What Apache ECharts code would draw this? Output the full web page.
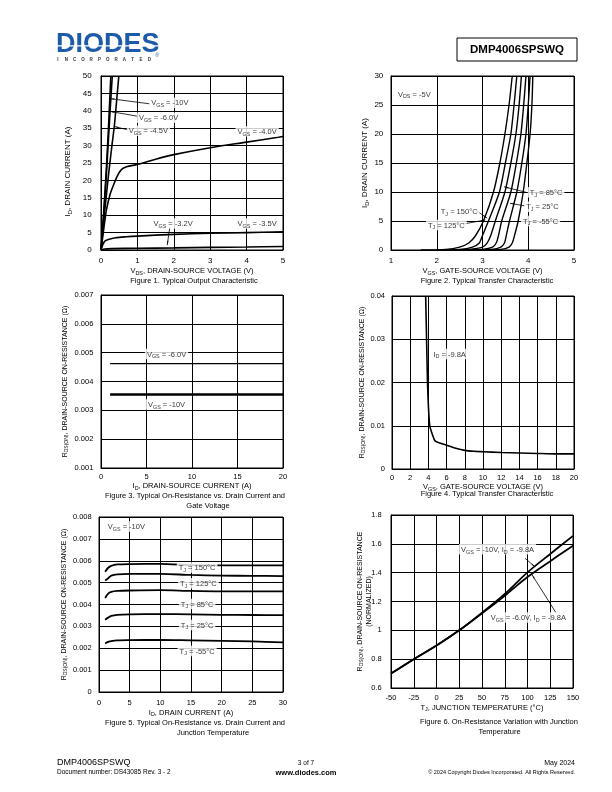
<!DOCTYPE html>
<html><head><meta charset="utf-8">
<script src="https://cdn.jsdelivr.net/npm/echarts@6/dist/echarts.min.js"></script>
<style>html,body{margin:0;padding:0;background:#fff}#c{width:612px;height:792px}</style>
</head><body><div id="c"></div>
<script>
// ---------------- DATA ----------------
// Figure 1: Typical Output Characteristic  [VDS (V), ID (A)]
const fig1Vgs10 = [[0,0],[0.05,7],[0.1,15],[0.15,24],[0.2,34],[0.27,50]];
const fig1Vgs6  = [[0,0],[0.05,6.5],[0.1,14],[0.15,22],[0.2,31],[0.25,40],[0.31,50]];
const fig1Vgs45 = [[0,0],[0.05,5.5],[0.1,11],[0.2,21],[0.3,30],[0.37,36],[0.43,43],[0.49,50]];
const fig1Vgs40 = [[0,0],[0.05,4],[0.1,8],[0.15,11.6],[0.25,16],[0.33,18.3],[0.45,21.3],[0.56,23.1],[0.7,23.9],[1,24.6],[1.5,26.1],[2,27.4],[3,29.4],[4,31.0],[5,32.6]];
const fig1Vgs35 = [[0,0],[0.05,1.5],[0.1,2.5],[0.2,3.0],[0.4,3.5],[0.7,3.8],[1,4.0],[2,4.5],[3,4.8],[4,5.0],[5,5.2]];
const fig1Vgs32 = [[0,0],[0.1,0.3],[0.3,0.4],[1,0.5],[2,0.6],[3,0.75],[4,0.85],[5,1.0]];
const fig1Labels = [['V_{GS} = -10V',1.89,42.3],['V_{GS} = -6.0V',1.58,38.0],['V_{GS} = -4.5V',1.30,34.3],['V_{GS} = -4.0V',4.29,34.1],['V_{GS} = -3.2V',1.98,7.6],['V_{GS} = -3.5V',4.29,7.6]];
const fig1Arrows = [[1.34,42.0,0.245,43.5],[1.03,38.4,0.255,39.8],[0.74,34.5,0.365,35.5],[1.89,6.5,1.82,1.4]];

// Figure 2: Typical Transfer Characteristic  [VGS (V), ID (A)]
const fig2Tj150 = [[1.65,0],[2.2,0.1],[2.5,0.5],[2.7,1.2],[2.85,2.5],[3.02,5],[3.24,10],[3.38,15],[3.49,20],[3.58,25],[3.65,30]];
const fig2Tj125 = [[2.0,0],[2.5,0.1],[2.78,0.5],[2.93,1.2],[3.0,2.5],[3.13,5],[3.37,10],[3.5,15],[3.62,20],[3.69,25],[3.75,30]];
const fig2Tj85  = [[2.3,0],[2.7,0.1],[3.0,0.5],[3.1,1.2],[3.18,2.5],[3.28,5],[3.49,10],[3.62,15],[3.73,20],[3.8,25],[3.85,30]];
const fig2Tj25  = [[2.6,0],[3.0,0.1],[3.22,0.5],[3.3,1.2],[3.35,2.5],[3.42,5],[3.62,10],[3.74,15],[3.84,20],[3.9,25],[3.95,30]];
const fig2TjA   = [[2.8,0],[3.2,0.1],[3.4,0.5],[3.48,1.2],[3.52,2.5],[3.59,5],[3.75,10],[3.86,15],[3.95,20],[4.0,25],[4.04,30]];
const fig2Tjm55 = [[3.0,0],[3.4,0.1],[3.58,0.5],[3.65,1.2],[3.7,2.5],[3.78,5],[3.89,10],[3.97,15],[4.04,20],[4.08,25],[4.10,30]];
const fig2Labels = [['V_{DS} = -5V',1.51,26.9],['T_{J} = 85°C',4.39,9.95],['T_{J} = 25°C',4.31,7.47],['T_{J} = -55°C',4.27,5.0],['T_{J} = 150°C',2.49,6.6],['T_{J} = 125°C',2.21,4.31]];
const fig2Arrows = [[3.95,9.95,3.47,10.9],[3.93,7.6,3.60,8.05],[2.88,6.7,3.10,5.5],[2.58,4.48,3.06,5.17]];

// Figure 3: On-Resistance vs Drain Current and Gate Voltage [ID (A), RDS(ON) (Ohm)]
const fig3Vgs6  = [[1,0.00462],[20,0.00462]];
const fig3Vgs10 = [[1,0.00355],[20,0.00355]];
const fig3Labels = [['V_{GS} = -6.0V',7.2,0.00495],['V_{GS} = -10V',7.2,0.0032]];

// Figure 4: RDS(ON) vs VGS [VGS (V), RDS(ON) (Ohm)]
const fig4Id98 = [[3.7,0.04],[3.8,0.03],[3.9,0.02],[4.0,0.0145],[4.15,0.01],[4.4,0.0082],[4.7,0.0066],[5,0.0062],[6,0.0055],[7,0.0048],[8,0.0043],[9,0.0041],[10,0.004],[12,0.0038],[14,0.0037],[16,0.0036],[18,0.0035],[20,0.0035]];
const fig4Labels = [['I_{D} = -9.8A',6.33,0.0266]];

// Figure 5: RDS(ON) vs ID and TJ [ID (A), RDS(ON) (Ohm)]
const fig5Current = [1,1.5,2,3,5,10,15,20,25,30];
const fig5Tj150 = [0.0055,0.00568,0.00577,0.00583,0.00585,0.00586,0.0058,0.00579,0.00579,0.00579];
const fig5Tj125 = [0.0051,0.0052,0.00532,0.00538,0.0054,0.0054,0.00535,0.00532,0.00531,0.0053];
const fig5Tj85  = [0.0043,0.0045,0.00458,0.00462,0.00464,0.00466,0.00462,0.0046,0.0046,0.0046];
const fig5Tj25  = [0.0033,0.0034,0.00348,0.00353,0.00355,0.00356,0.00355,0.00353,0.00352,0.00351];
const fig5Tjm55 = [0.00222,0.00229,0.00233,0.00236,0.00237,0.00238,0.00236,0.00234,0.00231,0.00227];
const fig5Labels = [['V_{GS} = -10V',4.46,0.00757],['T_{J} = 150°C',16,0.00569],['T_{J} = 125°C',16.2,0.00497],['T_{J} = 85°C',16,0.00402],['T_{J} = 25°C',16,0.00306],['T_{J} = -55°C',16,0.00187]];

// Figure 6: normalized RDS(ON) vs TJ [TJ (°C), normalized]
const fig6Temp = [-50,-25,0,25,50,75,100,125,150];
const fig6Vgs10 = [0.70,0.80,0.895,1.0,1.122,1.252,1.402,1.53,1.655];
const fig6Vgs6  = [0.70,0.80,0.895,1.0,1.118,1.24,1.37,1.48,1.587];
const fig6Labels = [['V_{GS} = -10V, I_{D} = -9.8A',67.1,1.562],['V_{GS} = -6.0V, I_{D} = -9.8A',101.0,1.089]];
const fig6Arrows = [[97.4,1.499,108.4,1.44],[131.5,1.12,105,1.385]];

// ---------------- HELPERS ----------------
const FONT = "'Liberation Sans', Arial, sans-serif";
function rich(str){
  let out='', re=/_\{([^}]*)\}/g, last=0, m;
  while((m=re.exec(str))){ if(m.index>last) out+='{n|'+str.slice(last,m.index)+'}'; out+='{s|'+m[1]+'}'; last=re.lastIndex; }
  if(last<str.length) out+='{n|'+str.slice(last)+'}';
  return out;
}
function rs(fs, lh){
  return {n:{fontSize:fs,fontFamily:FONT,color:'#000',lineHeight:lh||fs+2},
          s:{fontSize:Math.round(fs*0.72*10)/10,fontFamily:FONT,color:'#000',verticalAlign:'bottom'}};
}
function pair(xs, ys){ return xs.map((x,i)=>[x, ys[i]]); }

const grids = [
  {left:101, top:76, width:182, height:174},
  {left:391, top:76, width:183, height:174},
  {left:101, top:295, width:182, height:173},
  {left:392, top:296, width:182, height:173},
  {left:99, top:517, width:184, height:175},
  {left:391, top:515, width:182, height:173}
].map(g=>Object.assign({show:true, borderColor:'#000', borderWidth:1, containLabel:false, outerBoundsMode:'none'}, g));

function baseAxis(i, min, max, interval, name, gap, margin, fs, nfs, fmt, extraName, extra){
  return Object.assign({
    type:'value', gridIndex:i, min, max, interval,
    name: rich(name), nameLocation:'middle', nameGap:gap,
    nameTextStyle:Object.assign({rich:rs(nfs)}, extraName||{}),
    axisLine:{show:true, onZero:false, lineStyle:{color:'#000', width:1}},
    axisTick:{show:false},
    splitLine:{show:true, lineStyle:{color:'#000', width:1}},
    axisLabel:{color:'#000', fontSize:fs, fontFamily:FONT, margin, showMinLabel:true, showMaxLabel:true, hideOverlap:false, formatter: fmt}
  }, extra||{});
}
const fmtInt = v => String(Math.round(v));
const fmt3 = v => Math.abs(v)<1e-9 ? '0' : v.toFixed(3);
const fmt2 = v => Math.abs(v)<1e-9 ? '0' : v.toFixed(2);
const fmt1 = v => String(+v.toFixed(1));

const xAxes = [
  baseAxis(0, 0, 5, 1, 'V_{DS}, DRAIN-SOURCE VOLTAGE (V)', 16.5, 7, 8, 7.5, fmtInt),
  baseAxis(1, 1, 5, 1, 'V_{GS}, GATE-SOURCE VOLTAGE (V)', 16.5, 7, 8, 7.5, fmtInt),
  baseAxis(2, 0, 20, 5, 'I_{D}, DRAIN-SOURCE CURRENT (A)', 13.5, 5, 7.5, 7.5, fmtInt),
  baseAxis(3, 0, 20, 2, 'V_{GS}, GATE-SOURCE VOLTAGE (V)', 12.5, 5, 7.5, 7.5, fmtInt),
  baseAxis(4, 0, 30, 5, 'I_{D}, DRAIN CURRENT (A)', 16, 6.5, 7.5, 7.5, fmtInt),
  baseAxis(5, -50, 150, 25, 'T_{J}, JUNCTION TEMPERATURE (°C)', 15, 5.5, 7.5, 7.5, fmtInt)
];
const yAxes = [
  baseAxis(0, 0, 50, 5, 'I_{D}, DRAIN CURRENT (A)', 28, 9.3, 8, 8, fmtInt, {padding:[0,17,0,0]}),
  baseAxis(1, 0, 30, 5, 'I_{D}, DRAIN CURRENT (A)', 21, 7.7, 8, 8, fmtInt),
  baseAxis(2, 0.001, 0.007, 0.001, 'R_{DS(ON)}, DRAIN-SOURCE ON-RESISTANCE (Ω)', 31.5, 7.7, 7.5, 7, fmt3),
  baseAxis(3, 0, 0.04, 0.01, 'R_{DS(ON)}, DRAIN-SOURCE ON-RESISTANCE (Ω)', 22, 7, 7.5, 7, fmt2),
  baseAxis(4, 0, 0.008, 0.001, 'R_{DS(ON)}, DRAIN-SOURCE ON-RESISTANCE (Ω)', 30.5, 7.3, 7.5, 7, fmt3),
  baseAxis(5, 0.6, 1.8, 0.2, 'R_{DS(ON)}, DRAIN-SOURCE ON-RESISTANCE\n(NORMALIZED)', 17.5, 9.3, 7.5, 7, fmt1, {rich:rs(7, 9)}, {nameMoveOverlap:false})
];

function curve(gi, data, width, smooth){
  return {type:'line', xAxisIndex:gi, yAxisIndex:gi, data, symbol:'none', showSymbol:false,
    smooth: smooth===undefined ? 0.3 : smooth, clip:true, silent:true, z:3,
    lineStyle:{color:'#000', width: width||1.6}};
}
function annot(gi, labels, arrows, fs){
  return {type:'scatter', xAxisIndex:gi, yAxisIndex:gi, symbolSize:1, silent:true, z:6,
    itemStyle:{color:'rgba(0,0,0,0)'},
    data: labels.map(l=>({value:[l[1],l[2]], label:{formatter: rich(l[0])}})),
    label:{show:true, position:'inside', color:'#000', backgroundColor:'#fff', padding:[1,2,0,2], rich: rs(fs)},
    markLine:{silent:true, symbol:['none','arrow'], symbolSize:[1,5], animation:false,
      lineStyle:{color:'#000', width:0.8, type:'solid'}, label:{show:false}, emphasis:{disabled:true},
      data:(arrows||[]).map(a=>[{coord:[a[0],a[1]]},{coord:[a[2],a[3]]}])}
  };
}

const series = [
  curve(0, fig1Vgs10, 1.6, 0), curve(0, fig1Vgs6, 1.6, 0), curve(0, fig1Vgs45, 1.6, 0.2),
  curve(0, fig1Vgs40, 1.6, 0.3), curve(0, fig1Vgs35, 1.6, 0.3), curve(0, fig1Vgs32, 1.6, 0.2),
  annot(0, fig1Labels, fig1Arrows, 7.5),
  curve(1, fig2Tj150, 1.4, 0.25), curve(1, fig2Tj125, 1.4, 0.25), curve(1, fig2Tj85, 1.4, 0.25),
  curve(1, fig2Tj25, 1.4, 0.25), curve(1, fig2TjA, 1.4, 0.25), curve(1, fig2Tjm55, 1.4, 0.25),
  annot(1, fig2Labels, fig2Arrows, 7.5),
  curve(2, fig3Vgs6, 1.2, 0), curve(2, fig3Vgs10, 2.6, 0),
  annot(2, fig3Labels, [], 7.5),
  curve(3, fig4Id98, 1.6, 0.15),
  annot(3, fig4Labels, [], 7.5),
  curve(4, pair(fig5Current, fig5Tj150), 1.8), curve(4, pair(fig5Current, fig5Tj125), 1.8),
  curve(4, pair(fig5Current, fig5Tj85), 1.8), curve(4, pair(fig5Current, fig5Tj25), 1.8),
  curve(4, pair(fig5Current, fig5Tjm55), 1.8),
  annot(4, fig5Labels, [], 7.5),
  curve(5, pair(fig6Temp, fig6Vgs10), 1.8, 0.4), curve(5, pair(fig6Temp, fig6Vgs6), 1.8, 0.4),
  annot(5, fig6Labels, fig6Arrows, 7.5)
];

function txt(x, y, text, font, align, fill){
  return {type:'text', x, y, silent:true, style:{text, font, fill: fill||'#000', align: align||'center', verticalAlign:'middle', textAlign: align||'center', textVerticalAlign:'middle'}};
}
const captions = [
  ['Figure 1. Typical Output Characteristic', 194, 281],
  ['Figure 2. Typical Transfer Characteristic', 487, 281],
  ['Figure 3. Typical On-Resistance vs. Drain Current and', 195, 496],
  ['Gate Voltage', 208, 505.5],
  ['Figure 4. Typical Transfer Characteristic', 487, 493.5],
  ['Figure 5. Typical On-Resistance vs. Drain Current and', 195, 723],
  ['Junction Temperature', 213, 732.5],
  ['Figure 6. On-Resistance Variation with Junction', 499, 721.7],
  ['Temperature', 499.5, 731.7]
];
const logoBlue = '#1d5ba8';
const incLetters = 'INCORPORATED'.split('');
const graphics = [
  {type:'text', x:56, y:45, silent:true, style:{text:'DIODES', font:"bold 27px 'Liberation Sans', Arial, sans-serif", fill:logoBlue, align:'left', verticalAlign:'middle', textAlign:'left', textVerticalAlign:'middle'}},
  {type:'rect', silent:true, shape:{x:54, y:45.3, width:106, height:1.3}, style:{fill:'#fff'}},
  ...incLetters.map((c,i)=>txt(58 + i*8.3, 60, c, "bold 4.5px 'Liberation Sans', Arial, sans-serif", 'center', '#333')),
  txt(157, 56, '®', "5px 'Liberation Sans', Arial, sans-serif", 'center', logoBlue),
  {type:'rect', silent:true, shape:{x:457, y:38, width:120, height:23}, style:{fill:'none', stroke:'#000', lineWidth:1}},
  txt(517, 49.5, 'DMP4006SPSWQ', "bold 11.5px 'Liberation Sans', Arial, sans-serif"),
  ...captions.map(c=>txt(c[1], c[2], c[0], "7.5px 'Liberation Sans', Arial, sans-serif")),
  txt(57, 763, 'DMP4006SPSWQ', "9px 'Liberation Sans', Arial, sans-serif", 'left'),
  txt(57, 772.5, 'Document number: DS43085 Rev. 3 - 2', "6.5px 'Liberation Sans', Arial, sans-serif", 'left'),
  txt(306, 763, '3 of 7', "6.5px 'Liberation Sans', Arial, sans-serif"),
  txt(306, 772.5, 'www.diodes.com', "bold 7.5px 'Liberation Sans', Arial, sans-serif"),
  txt(575, 763, 'May 2024', "7px 'Liberation Sans', Arial, sans-serif", 'right'),
  txt(575, 772.5, '© 2024 Copyright Diodes Incorporated. All Rights Reserved.', "5.5px 'Liberation Sans', Arial, sans-serif", 'right')
];

const chart = echarts.init(document.getElementById('c'), null, {renderer:'canvas', width:612, height:792});
chart.setOption({
  animation:false,
  backgroundColor:'#fff',
  textStyle:{fontFamily:FONT},
  grid: grids,
  xAxis: xAxes,
  yAxis: yAxes,
  series,
  graphic: graphics
});
</script>
</body></html>
